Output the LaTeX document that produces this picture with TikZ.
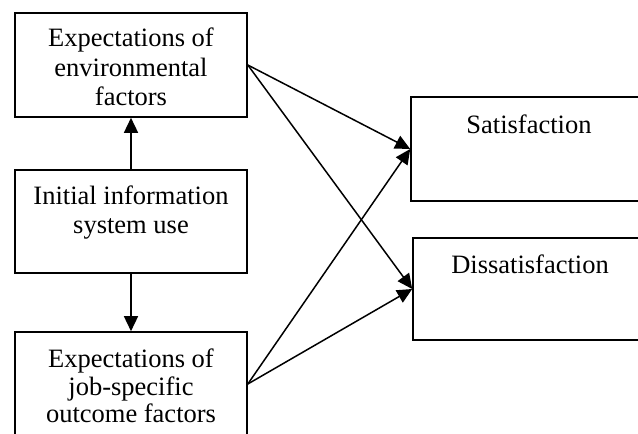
\documentclass[tikz,border=0pt]{standalone}
\usepackage{fontspec}
\setmainfont{Liberation Serif}
\usetikzlibrary{arrows.meta}
\begin{document}
\begin{tikzpicture}[x=1pt,y=-1pt,
  box/.style={draw, line width=1.6pt, rectangle, inner sep=0pt},
  txt/.style={font=\fontsize{26.5}{29}\selectfont, anchor=base, inner sep=0pt},
  arr/.style={-{Triangle[length=15pt,width=14pt]}, line width=1.5pt}]
\useasboundingbox (0,0) rectangle (638,434);
\clip (0,0) rectangle (638,434);
% boxes
\node[box, minimum width=232pt, minimum height=104pt] (env) at (131,65) {};
\node[box, minimum width=232pt, minimum height=103pt] (mid) at (131,221.5) {};
\node[box, minimum width=232pt, minimum height=104pt] (job) at (131,384) {};
\node[box, minimum width=236pt, minimum height=104pt] (sat) at (529,149) {};
\node[box, minimum width=234pt, minimum height=102pt] (dis) at (530,289) {};
% texts
\node[txt] (env1) at (131,46.7) {Expectations of};
\node[txt] (env2) at (131,76) {environmental};
\node[txt] (env3) at (131,105) {factors};
\node[txt] (mid1) at (131,204) {Initial information};
\node[txt] (mid2) at (131,233) {system use};
\node[txt] (job1) at (131,367) {Expectations of};
\node[txt] (job2) at (131,395) {job-specific};
\node[txt] (job3) at (131,422) {outcome factors};
\node[txt] (sat1) at (529,133) {Satisfaction};
\node[txt] (dis1) at (530,273) {Dissatisfaction};
% connectors
\draw[arr] (mid.north) -- (env.south);
\draw[arr] (mid.south) -- (job.north);
\draw[arr] (env.east) -- (sat.west);
\draw[arr] (env.east) -- (dis.west);
\draw[arr] (job.east) -- (sat.west);
\draw[arr] (job.east) -- (dis.west);
\end{tikzpicture}
\end{document}
